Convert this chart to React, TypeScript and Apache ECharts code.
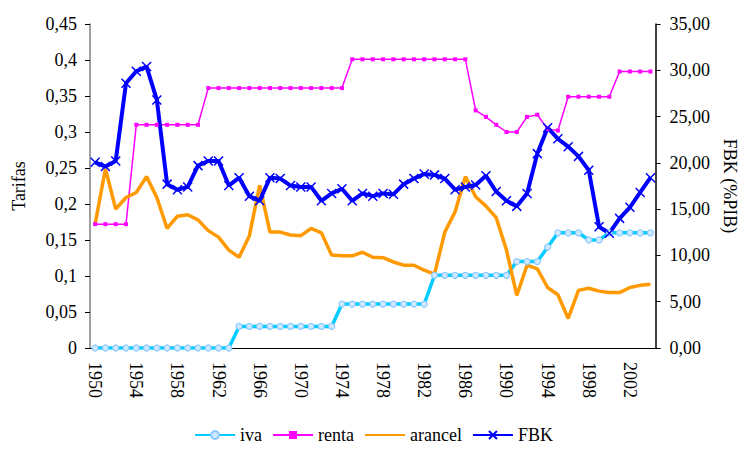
import React, { useEffect, useRef } from "react";
import * as echarts from "echarts";

const years = [
  "1950","1951","1952","1953","1954","1955","1956","1957","1958","1959",
  "1960","1961","1962","1963","1964","1965","1966","1967","1968","1969",
  "1970","1971","1972","1973","1974","1975","1976","1977","1978","1979",
  "1980","1981","1982","1983","1984","1985","1986","1987","1988","1989",
  "1990","1991","1992","1993","1994","1995","1996","1997","1998","1999",
  "2000","2001","2002","2003","2004",
];

const iva = [
  0, 0, 0, 0, 0, 0, 0, 0, 0, 0, 0, 0, 0, 0,
  0.03, 0.03, 0.03, 0.03, 0.03, 0.03, 0.03, 0.03, 0.03, 0.03,
  0.061, 0.061, 0.061, 0.061, 0.061, 0.061, 0.061, 0.061, 0.061,
  0.101, 0.101, 0.101, 0.101, 0.101, 0.101, 0.101, 0.101,
  0.12, 0.12, 0.12,
  0.14,
  0.16, 0.16, 0.16,
  0.15, 0.15,
  0.16, 0.16, 0.16, 0.16, 0.16,
];

const renta = [
  0.172, 0.172, 0.172, 0.172,
  0.31, 0.31, 0.31, 0.31, 0.31, 0.31, 0.31,
  0.361, 0.361, 0.361, 0.361, 0.361, 0.361, 0.361, 0.361, 0.361, 0.361, 0.361, 0.361, 0.361, 0.361,
  0.401, 0.401, 0.401, 0.401, 0.401, 0.401, 0.401, 0.401, 0.401, 0.401, 0.401, 0.401,
  0.33, 0.321, 0.31, 0.30, 0.30, 0.321, 0.324, 0.304, 0.302,
  0.349, 0.349, 0.349, 0.349, 0.349,
  0.384, 0.384, 0.384, 0.384,
];

const arancel = [
  0.172, 0.249, 0.193, 0.209, 0.216, 0.238, 0.209, 0.166, 0.183, 0.185,
  0.178, 0.163, 0.154, 0.136, 0.126, 0.156, 0.226, 0.161, 0.161, 0.157,
  0.156, 0.166, 0.160, 0.129, 0.128, 0.128, 0.133, 0.126, 0.1255, 0.1195,
  0.115, 0.115, 0.108, 0.1025, 0.161, 0.189, 0.238, 0.21, 0.197, 0.181,
  0.136, 0.073, 0.115, 0.110, 0.084, 0.074, 0.041, 0.080, 0.083, 0.079,
  0.077, 0.077, 0.084, 0.087, 0.0886,
];

const fbk = [
  20.06, 19.6, 20.2, 28.6, 29.9, 30.4, 26.8, 17.7, 17.1, 17.4,
  19.7, 20.2, 20.2, 17.55, 18.4, 16.4, 15.9, 18.4, 18.3, 17.55,
  17.4, 17.4, 15.9, 16.7, 17.2, 15.9, 16.7, 16.4, 16.7, 16.6,
  17.7, 18.3, 18.8, 18.7, 18.3, 17.1, 17.4, 17.6, 18.6, 16.9,
  15.9, 15.3, 16.7, 21.0, 23.8, 22.6, 21.75, 20.7, 19.2, 13.1,
  12.4, 14.0, 15.2, 16.8, 18.4,
];

const FONT = "Liberation Serif";
const X_SYMBOL = "path://M0,0L10,10M10,0L0,10";

export default function App() {
  const ref = useRef<HTMLDivElement>(null);

  useEffect(() => {
    if (!ref.current) return;
    const chart = echarts.init(ref.current, null, { renderer: "svg" });
    const fs = 18;
    const txt = { fontFamily: FONT, fontSize: fs, color: "#000" };
    const option = {
      animation: false,
      backgroundColor: "#ffffff",
      textStyle: { fontFamily: FONT, color: "#000" },
      grid: { left: 90, right: 85, top: 24, bottom: 101 },
      legend: {
        bottom: 0,
        left: "center",
        itemWidth: 40,
        itemHeight: 10,
        itemGap: 10,
        textStyle: { ...txt },
        data: [
          { name: "iva" },
          { name: "renta" },
          { name: "arancel", itemStyle: { opacity: 0 } },
          { name: "FBK" },
        ],
      },
      xAxis: {
        type: "category",
        data: years,
        boundaryGap: true,
        axisLine: { lineStyle: { color: "#000", width: 1 } },
        axisTick: { interval: 0, length: 5, lineStyle: { color: "#000" } },
        axisLabel: { interval: 3, rotate: -90, margin: 14, ...txt },
        splitLine: { show: false },
      },
      yAxis: [
        {
          type: "value",
          min: 0,
          max: 0.45,
          interval: 0.05,
          name: "Tarifas",
          nameLocation: "middle",
          nameRotate: 90,
          nameGap: 62,
          nameTextStyle: { ...txt },
          axisLine: { show: true, lineStyle: { color: "#808080", width: 1.5 } },
          axisTick: { show: true, length: 5, lineStyle: { color: "#000" } },
          splitLine: { show: false },
          axisLabel: {
            margin: 13,
            ...txt,
            formatter: (v: number) => String(+v.toFixed(2)).replace(".", ","),
          },
        },
        {
          type: "value",
          position: "right",
          min: 0,
          max: 35,
          interval: 5,
          name: "FBK (%PIB)",
          nameLocation: "middle",
          nameRotate: -90,
          nameGap: 64,
          nameTextStyle: { ...txt },
          axisLine: { show: true, lineStyle: { color: "#000", width: 1.5 } },
          axisTick: { show: true, length: 5, lineStyle: { color: "#000" } },
          splitLine: { show: false },
          axisLabel: {
            margin: 14,
            ...txt,
            formatter: (v: number) => v.toFixed(2).replace(".", ","),
          },
        },
      ],
      series: [
        {
          name: "iva",
          type: "line",
          yAxisIndex: 0,
          data: iva,
          symbol: "circle",
          symbolSize: 6,
          showAllSymbol: true,
          lineStyle: { color: "#00CCFF", width: 3.5 },
          itemStyle: { color: "#cfeaff", borderColor: "#8cc8ff", borderWidth: 1.2 },
        },
        {
          name: "renta",
          type: "line",
          yAxisIndex: 0,
          data: renta,
          symbol: "rect",
          symbolSize: 4,
          showAllSymbol: true,
          lineStyle: { color: "#FF00FF", width: 1.5 },
          itemStyle: { color: "#FF00FF" },
        },
        {
          name: "arancel",
          type: "line",
          yAxisIndex: 0,
          data: arancel,
          symbol: "none",
          lineStyle: { color: "#FF9900", width: 3.5 },
          itemStyle: { color: "#FF9900" },
        },
        {
          name: "FBK",
          type: "line",
          yAxisIndex: 1,
          data: fbk,
          symbol: X_SYMBOL,
          symbolSize: 9,
          showAllSymbol: true,
          lineStyle: { color: "#0000FF", width: 4 },
          itemStyle: { color: "#0000FF", borderColor: "#0000FF", borderWidth: 1.5 },
        },
      ],
    };
    chart.setOption(option as any);
    return () => chart.dispose();
  }, []);

  return (
    <div
      ref={ref}
      style={{ position: "fixed", left: 0, top: 0, width: 747, height: 449 }}
    />
  );
}
